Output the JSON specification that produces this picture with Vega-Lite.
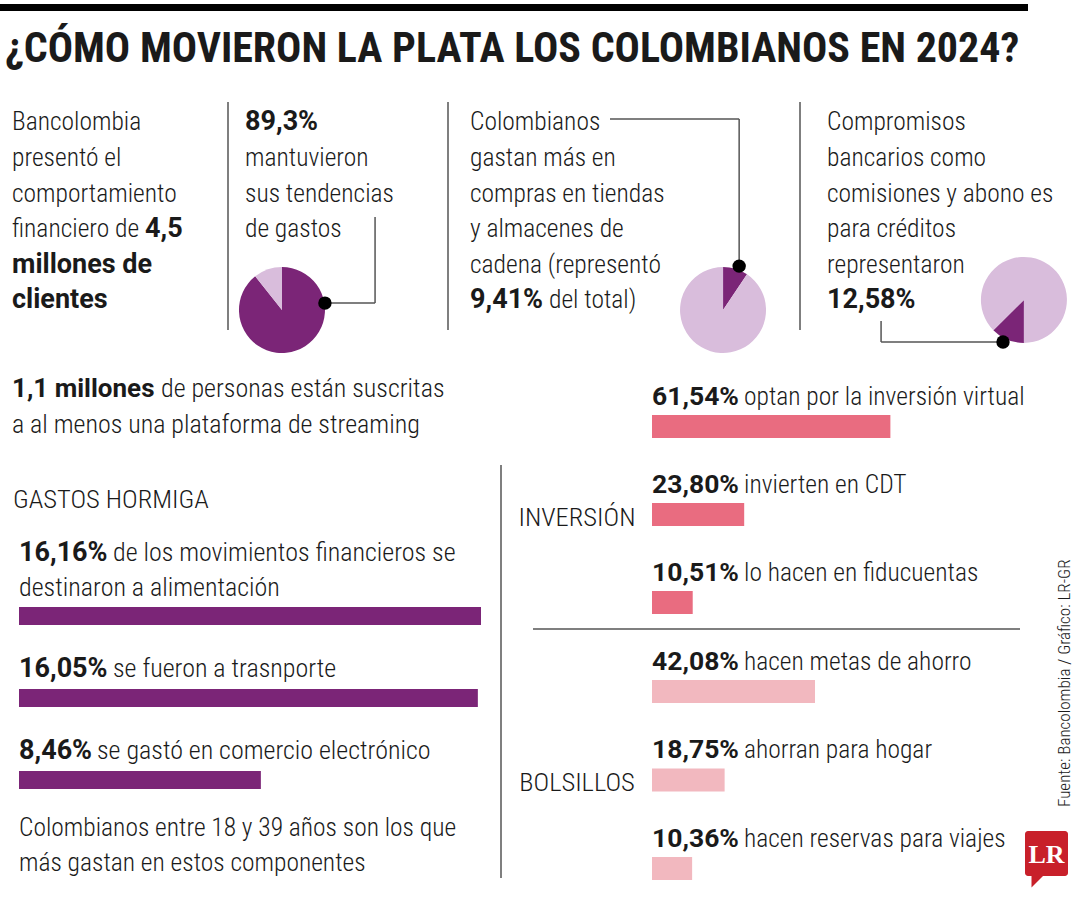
{
  "$schema": "https://vega.github.io/schema/vega-lite/v6.json",
  "background": "white",
  "padding": {"left": 0, "top": 4, "right": 0, "bottom": 0},
  "spacing": 0,
  "config": {
    "view": {"stroke": null},
    "axis": {"disable": true},
    "legend": {"disable": true},
    "concat": {"spacing": 0},
    "text": {"font": "Roboto Condensed, Liberation Sans Narrow, DejaVu Sans Condensed, sans-serif", "fontSize": 25.5, "fontWeight": 300, "color": "#1a1a1a", "align": "left", "baseline": "alphabetic"}
  },
  "vconcat": [
    {"width": 1028, "height": 7, "data": {"values": [{}]}, "mark": {"type": "rect", "color": "#000000"}, "encoding": {}},
    {"width": 1080, "height": 91,
     "data": {"values": [{"line": 1, "text": "¿CÓMO MOVIERON LA PLATA LOS COLOMBIANOS EN 2024?"}]},
     "mark": {"type": "text", "fontWeight": 700, "fontSize": 42, "dx": 5},
     "encoding": {
       "x": {"datum": 0, "type": "quantitative", "scale": {"domain": [0, 100]}},
       "y": {"field": "line", "type": "ordinal", "scale": {"type": "band", "paddingInner": 0, "paddingOuter": 0}, "bandPosition": 0.56},
       "text": {"field": "text"}}},
    {"hconcat": [
      {"width": 227, "height": 266,
       "layer": [
         {"data": {"values": [{"line": 1, "text": "Bancolombia"}, {"line": 2, "text": "presentó el"}, {"line": 3, "text": "comportamiento"}, {"line": 4, "text": "financiero de"}]},
          "mark": {"type": "text", "dx": 12},
          "encoding": {"x": {"datum": 0, "type": "quantitative", "scale": {"domain": [0, 100]}},
            "y": {"field": "line", "type": "ordinal", "scale": {"type": "band", "domain": [1, 2, 3, 4, 5, 6], "paddingInner": 0, "paddingOuter": 0.736, "align": 0}, "bandPosition": 0.8},
            "text": {"field": "text"}}},
         {"data": {"values": [{"line": 4, "text": "4,5"}]},
          "mark": {"type": "text", "dx": 145, "font": "Roboto", "fontWeight": 700, "fontSize": 27},
          "encoding": {"x": {"datum": 0, "type": "quantitative", "scale": {"domain": [0, 100]}},
            "y": {"field": "line", "type": "ordinal", "scale": {"type": "band", "domain": [1, 2, 3, 4, 5, 6], "paddingInner": 0, "paddingOuter": 0.736, "align": 0}, "bandPosition": 0.8},
            "text": {"field": "text"}}},
         {"data": {"values": [{"line": 5, "text": "millones de"}, {"line": 6, "text": "clientes"}]},
          "mark": {"type": "text", "dx": 12, "font": "Roboto", "fontWeight": 700, "fontSize": 27},
          "encoding": {"x": {"datum": 0, "type": "quantitative", "scale": {"domain": [0, 100]}},
            "y": {"field": "line", "type": "ordinal", "scale": {"type": "band", "domain": [1, 2, 3, 4, 5, 6], "paddingInner": 0, "paddingOuter": 0.736, "align": 0}, "bandPosition": 0.8},
            "text": {"field": "text"}}}
       ]},
      {"width": 2, "height": 228, "data": {"values": [{}]}, "mark": {"type": "rect", "color": "#7f7f7f"}, "encoding": {}},
      {"width": 218, "height": 266,
       "resolve": {"scale": {"y": "independent"}},
       "layer": [
         {"data": {"values": [{"line": 2, "text": "mantuvieron"}, {"line": 3, "text": "sus tendencias"}, {"line": 4, "text": "de gastos"}]},
          "mark": {"type": "text", "dx": 16},
          "encoding": {"x": {"datum": 0, "type": "quantitative", "scale": {"domain": [0, 100]}},
            "y": {"field": "line", "type": "ordinal", "scale": {"type": "band", "domain": [1, 2, 3, 4, 5, 6], "paddingInner": 0, "paddingOuter": 0.736, "align": 0}, "bandPosition": 0.8},
            "text": {"field": "text"}}},
         {"data": {"values": [{"line": 1, "text": "89,3%"}]},
          "mark": {"type": "text", "dx": 16, "font": "Roboto", "fontWeight": 700, "fontSize": 27},
          "encoding": {"x": {"datum": 0, "type": "quantitative", "scale": {"domain": [0, 100]}},
            "y": {"field": "line", "type": "ordinal", "scale": {"type": "band", "domain": [1, 2, 3, 4, 5, 6], "paddingInner": 0, "paddingOuter": 0.736, "align": 0}, "bandPosition": 0.8},
            "text": {"field": "text"}}},
         {"data": {"values": [{"share": "parte", "value": 89.3}, {"share": "resto", "value": 10.7}]},
          "mark": {"type": "arc", "radius": 43},
          "encoding": {"theta": {"field": "value", "type": "quantitative", "stack": true},
            "color": {"field": "share", "type": "nominal", "scale": {"domain": ["parte", "resto"], "range": ["#7b2577", "#d9bddc"]}, "legend": null},
            "x": {"datum": 24.3, "type": "quantitative", "scale": {"domain": [0, 100]}},
            "y": {"datum": 78.2, "type": "quantitative", "scale": {"domain": [0, 100], "reverse": true}}}},
         {"data": {"values": [{}]}, "mark": {"type": "rule", "color": "#555555", "strokeWidth": 1.5},
          "encoding": {"x": {"datum": 44, "type": "quantitative", "scale": {"domain": [0, 100]}}, "x2": {"datum": 67},
            "y": {"datum": 75.6, "type": "quantitative", "scale": {"domain": [0, 100], "reverse": true}}}},
         {"data": {"values": [{}]}, "mark": {"type": "rule", "color": "#555555", "strokeWidth": 1.5},
          "encoding": {"x": {"datum": 67, "type": "quantitative", "scale": {"domain": [0, 100]}},
            "y": {"datum": 75.6, "type": "quantitative", "scale": {"domain": [0, 100], "reverse": true}}, "y2": {"datum": 43.2}}},
         {"data": {"values": [{}]}, "mark": {"type": "point", "filled": true, "size": 180, "color": "#000000", "opacity": 1},
          "encoding": {"x": {"datum": 44, "type": "quantitative", "scale": {"domain": [0, 100]}},
            "y": {"datum": 75.6, "type": "quantitative", "scale": {"domain": [0, 100], "reverse": true}}}}
       ]},
      {"width": 2, "height": 228, "data": {"values": [{}]}, "mark": {"type": "rect", "color": "#7f7f7f"}, "encoding": {}},
      {"width": 350, "height": 266,
       "resolve": {"scale": {"y": "independent"}},
       "layer": [
         {"data": {"values": [{"line": 1, "text": "Colombianos"}, {"line": 2, "text": "gastan más en"}, {"line": 3, "text": "compras en tiendas"}, {"line": 4, "text": "y almacenes de"}, {"line": 5, "text": "cadena (representó"}]},
          "mark": {"type": "text", "dx": 21},
          "encoding": {"x": {"datum": 0, "type": "quantitative", "scale": {"domain": [0, 100]}},
            "y": {"field": "line", "type": "ordinal", "scale": {"type": "band", "domain": [1, 2, 3, 4, 5, 6], "paddingInner": 0, "paddingOuter": 0.736, "align": 0}, "bandPosition": 0.8},
            "text": {"field": "text"}}},
         {"data": {"values": [{"line": 6, "text": "9,41%"}]},
          "mark": {"type": "text", "dx": 21, "font": "Roboto", "fontWeight": 700, "fontSize": 27},
          "encoding": {"x": {"datum": 0, "type": "quantitative", "scale": {"domain": [0, 100]}},
            "y": {"field": "line", "type": "ordinal", "scale": {"type": "band", "domain": [1, 2, 3, 4, 5, 6], "paddingInner": 0, "paddingOuter": 0.736, "align": 0}, "bandPosition": 0.8},
            "text": {"field": "text"}}},
         {"data": {"values": [{"line": 6, "text": "del total)"}]},
          "mark": {"type": "text", "dx": 100},
          "encoding": {"x": {"datum": 0, "type": "quantitative", "scale": {"domain": [0, 100]}},
            "y": {"field": "line", "type": "ordinal", "scale": {"type": "band", "domain": [1, 2, 3, 4, 5, 6], "paddingInner": 0, "paddingOuter": 0.736, "align": 0}, "bandPosition": 0.8},
            "text": {"field": "text"}}},
         {"data": {"values": [{"share": "parte", "value": 9.41}, {"share": "resto", "value": 90.59}]},
          "mark": {"type": "arc", "radius": 43},
          "encoding": {"theta": {"field": "value", "type": "quantitative", "stack": true},
            "color": {"field": "share", "type": "nominal", "scale": {"domain": ["parte", "resto"], "range": ["#7b2577", "#d9bddc"]}, "legend": null},
            "x": {"datum": 78.3, "type": "quantitative", "scale": {"domain": [0, 100]}},
            "y": {"datum": 78.2, "type": "quantitative", "scale": {"domain": [0, 100], "reverse": true}}}},
         {"data": {"values": [{}]}, "mark": {"type": "rule", "color": "#555555", "strokeWidth": 1.5},
          "encoding": {"x": {"datum": 82.9, "type": "quantitative", "scale": {"domain": [0, 100]}},
            "y": {"datum": 61.7, "type": "quantitative", "scale": {"domain": [0, 100], "reverse": true}}, "y2": {"datum": 6.4}}},
         {"data": {"values": [{}]}, "mark": {"type": "rule", "color": "#555555", "strokeWidth": 1.5},
          "encoding": {"x": {"datum": 46, "type": "quantitative", "scale": {"domain": [0, 100]}}, "x2": {"datum": 82.9},
            "y": {"datum": 6.4, "type": "quantitative", "scale": {"domain": [0, 100], "reverse": true}}}},
         {"data": {"values": [{}]}, "mark": {"type": "point", "filled": true, "size": 180, "color": "#000000", "opacity": 1},
          "encoding": {"x": {"datum": 82.9, "type": "quantitative", "scale": {"domain": [0, 100]}},
            "y": {"datum": 61.7, "type": "quantitative", "scale": {"domain": [0, 100], "reverse": true}}}}
       ]},
      {"width": 2, "height": 228, "data": {"values": [{}]}, "mark": {"type": "rect", "color": "#7f7f7f"}, "encoding": {}},
      {"width": 279, "height": 266,
       "resolve": {"scale": {"y": "independent"}},
       "layer": [
         {"data": {"values": [{"line": 1, "text": "Compromisos"}, {"line": 2, "text": "bancarios como"}, {"line": 3, "text": "comisiones y abono es"}, {"line": 4, "text": "para créditos"}, {"line": 5, "text": "representaron"}]},
          "mark": {"type": "text", "dx": 26},
          "encoding": {"x": {"datum": 0, "type": "quantitative", "scale": {"domain": [0, 100]}},
            "y": {"field": "line", "type": "ordinal", "scale": {"type": "band", "domain": [1, 2, 3, 4, 5, 6], "paddingInner": 0, "paddingOuter": 0.736, "align": 0}, "bandPosition": 0.8},
            "text": {"field": "text"}}},
         {"data": {"values": [{"line": 6, "text": "12,58%"}]},
          "mark": {"type": "text", "dx": 26, "font": "Roboto", "fontWeight": 700, "fontSize": 27},
          "encoding": {"x": {"datum": 0, "type": "quantitative", "scale": {"domain": [0, 100]}},
            "y": {"field": "line", "type": "ordinal", "scale": {"type": "band", "domain": [1, 2, 3, 4, 5, 6], "paddingInner": 0, "paddingOuter": 0.736, "align": 0}, "bandPosition": 0.8},
            "text": {"field": "text"}}},
         {"data": {"values": [{"share": "parte", "value": 12.58}, {"share": "resto", "value": 87.42}]},
          "mark": {"type": "arc", "radius": 43},
          "encoding": {"theta": {"field": "value", "type": "quantitative", "stack": true, "scale": {"range": [3.14159, 9.42478]}},
            "color": {"field": "share", "type": "nominal", "scale": {"domain": ["parte", "resto"], "range": ["#7b2577", "#d9bddc"]}, "legend": null},
            "x": {"datum": 79.9, "type": "quantitative", "scale": {"domain": [0, 100]}},
            "y": {"datum": 74.4, "type": "quantitative", "scale": {"domain": [0, 100], "reverse": true}}}},
         {"data": {"values": [{}]}, "mark": {"type": "rule", "color": "#555555", "strokeWidth": 1.5},
          "encoding": {"x": {"datum": 28.7, "type": "quantitative", "scale": {"domain": [0, 100]}}, "x2": {"datum": 72.4},
            "y": {"datum": 90.2, "type": "quantitative", "scale": {"domain": [0, 100], "reverse": true}}}},
         {"data": {"values": [{}]}, "mark": {"type": "rule", "color": "#555555", "strokeWidth": 1.5},
          "encoding": {"x": {"datum": 28.7, "type": "quantitative", "scale": {"domain": [0, 100]}},
            "y": {"datum": 90.2, "type": "quantitative", "scale": {"domain": [0, 100], "reverse": true}}, "y2": {"datum": 82.3}}},
         {"data": {"values": [{}]}, "mark": {"type": "point", "filled": true, "size": 180, "color": "#000000", "opacity": 1},
          "encoding": {"x": {"datum": 72.4, "type": "quantitative", "scale": {"domain": [0, 100]}},
            "y": {"datum": 90.2, "type": "quantitative", "scale": {"domain": [0, 100], "reverse": true}}}}
       ]}
    ]},
    {"hconcat": [
      {"vconcat": [
        {"width": 500, "height": 72,
         "layer": [
           {"data": {"values": [{"line": 1, "text": "1,1 millones"}]},
            "mark": {"type": "text", "dx": 12, "font": "Roboto", "fontWeight": 700, "fontSize": 26},
            "encoding": {"x": {"datum": 0, "type": "quantitative", "scale": {"domain": [0, 100]}},
              "y": {"field": "line", "type": "ordinal", "scale": {"type": "band", "domain": [1, 2], "paddingInner": 0, "paddingOuter": 0}, "bandPosition": 0.8},
              "text": {"field": "text"}}},
           {"data": {"values": [{"line": 1, "text": "de personas están suscritas"}]},
            "mark": {"type": "text", "dx": 161, "fontSize": 26},
            "encoding": {"x": {"datum": 0, "type": "quantitative", "scale": {"domain": [0, 100]}},
              "y": {"field": "line", "type": "ordinal", "scale": {"type": "band", "domain": [1, 2], "paddingInner": 0, "paddingOuter": 0}, "bandPosition": 0.8},
              "text": {"field": "text"}}},
           {"data": {"values": [{"line": 2, "text": "a al menos una plataforma de streaming"}]},
            "mark": {"type": "text", "dx": 12, "fontSize": 26},
            "encoding": {"x": {"datum": 0, "type": "quantitative", "scale": {"domain": [0, 100]}},
              "y": {"field": "line", "type": "ordinal", "scale": {"type": "band", "domain": [1, 2], "paddingInner": 0, "paddingOuter": 0}, "bandPosition": 0.8},
              "text": {"field": "text"}}}
         ]},
        {"width": 500, "height": 80,
         "data": {"values": [{"line": 1, "text": "GASTOS HORMIGA"}]},
         "mark": {"type": "text", "dx": 13, "fontSize": 26.5},
         "encoding": {"x": {"datum": 0, "type": "quantitative", "scale": {"domain": [0, 100]}},
           "y": {"field": "line", "type": "ordinal", "scale": {"type": "band", "paddingInner": 0, "paddingOuter": 0}, "bandPosition": 0.85},
           "text": {"field": "text"}}},
        {"hconcat": [
          {"width": 19, "height": 1, "data": {"values": [{}]}, "mark": {"type": "rect", "opacity": 0}, "encoding": {}},
          {"width": 462, "height": 269,
           "data": {"values": [
             {"item": 1, "value": 16.16, "pct": "16,16%", "rest": "de los movimientos financieros se", "cont": "destinaron a alimentación"},
             {"item": 2, "value": 16.05, "pct": "16,05%", "rest": "se fueron a trasnporte"},
             {"item": 3, "value": 8.46, "pct": "8,46%", "rest": "se gastó en comercio electrónico"}
           ]},
           "layer": [
             {"mark": {"type": "bar", "color": "#7b2577"},
              "encoding": {"x": {"field": "value", "type": "quantitative", "scale": {"nice": false, "zero": true}},
                "y": {"field": "item", "type": "ordinal", "scale": {"type": "band", "paddingInner": 0.7805, "paddingOuter": 0.5305, "align": 1}}}},
             {"transform": [{"filter": "!datum.cont"}],
              "mark": {"type": "text", "font": "Roboto", "fontWeight": 700, "fontSize": 27, "dy": -12},
              "encoding": {"x": {"datum": 0, "type": "quantitative"},
                "y": {"field": "item", "type": "ordinal", "bandPosition": 0},
                "text": {"field": "pct"}}},
             {"transform": [{"filter": "datum.cont"}],
              "mark": {"type": "text", "font": "Roboto", "fontWeight": 700, "fontSize": 27, "dy": -46},
              "encoding": {"x": {"datum": 0, "type": "quantitative"},
                "y": {"field": "item", "type": "ordinal", "bandPosition": 0},
                "text": {"field": "pct"}}},
             {"transform": [{"filter": "!datum.cont && length(datum.pct) == 6"}],
              "mark": {"type": "text", "dx": 94, "dy": -12, "fontSize": 26},
              "encoding": {"x": {"datum": 0, "type": "quantitative"},
                "y": {"field": "item", "type": "ordinal", "bandPosition": 0},
                "text": {"field": "rest"}}},
             {"transform": [{"filter": "!datum.cont && length(datum.pct) == 5"}],
              "mark": {"type": "text", "dx": 78, "dy": -12, "fontSize": 26},
              "encoding": {"x": {"datum": 0, "type": "quantitative"},
                "y": {"field": "item", "type": "ordinal", "bandPosition": 0},
                "text": {"field": "rest"}}},
             {"transform": [{"filter": "datum.cont"}],
              "mark": {"type": "text", "dx": 94, "dy": -46, "fontSize": 26},
              "encoding": {"x": {"datum": 0, "type": "quantitative"},
                "y": {"field": "item", "type": "ordinal", "bandPosition": 0},
                "text": {"field": "rest"}}},
             {"transform": [{"filter": "datum.cont"}],
              "mark": {"type": "text", "dy": -11, "fontSize": 26},
              "encoding": {"x": {"datum": 0, "type": "quantitative"},
                "y": {"field": "item", "type": "ordinal", "bandPosition": 0},
                "text": {"field": "cont"}}}
           ]}
        ]},
        {"width": 500, "height": 111,
         "data": {"values": [{"line": 1, "text": "Colombianos entre 18 y 39 años son los que"}, {"line": 2, "text": "más gastan en estos componentes"}]},
         "mark": {"type": "text", "dx": 19},
         "encoding": {"x": {"datum": 0, "type": "quantitative", "scale": {"domain": [0, 100]}},
           "y": {"field": "line", "type": "ordinal", "scale": {"type": "band", "paddingInner": 0, "paddingOuter": 0.586}, "bandPosition": 0.757},
           "text": {"field": "text"}}}
      ]},
      {"vconcat": [
        {"width": 2, "height": 97, "data": {"values": [{}]}, "mark": {"type": "rect", "opacity": 0}, "encoding": {}},
        {"width": 2, "height": 413, "data": {"values": [{}]}, "mark": {"type": "rect", "color": "#7f7f7f"}, "encoding": {}}
      ]},
      {"vconcat": [
        {"hconcat": [
          {"width": 150, "height": 260,
           "data": {"values": [{"item": 2, "text": "INVERSIÓN"}]},
           "mark": {"type": "text", "align": "center", "fontSize": 26.5},
           "encoding": {
             "y": {"field": "item", "type": "ordinal", "scale": {"type": "band", "domain": [1, 2, 3], "paddingInner": 0.7386, "paddingOuter": 0.3466, "align": 0.77}, "bandPosition": 1},
             "text": {"field": "text"}}},
          {"width": 368, "height": 260,
           "data": {"values": [
             {"item": 1, "value": 61.54, "pct": "61,54%", "rest": "optan por la inversión virtual"},
             {"item": 2, "value": 23.80, "pct": "23,80%", "rest": "invierten en CDT"},
             {"item": 3, "value": 10.51, "pct": "10,51%", "rest": "lo hacen en fiducuentas"}
           ]},
           "layer": [
             {"mark": {"type": "bar", "color": "#e96c80"},
              "encoding": {"x": {"field": "value", "type": "quantitative", "scale": {"domain": [0, 95], "nice": false}},
                "y": {"field": "item", "type": "ordinal", "scale": {"type": "band", "domain": [1, 2, 3], "paddingInner": 0.7386, "paddingOuter": 0.3466, "align": 0.77}}}},
             {"mark": {"type": "text", "font": "Roboto", "fontWeight": 700, "fontSize": 26.5, "dy": -10},
              "encoding": {"x": {"datum": 0, "type": "quantitative"},
                "y": {"field": "item", "type": "ordinal", "bandPosition": 0},
                "text": {"field": "pct"}}},
             {"mark": {"type": "text", "dx": 92, "dy": -10},
              "encoding": {"x": {"datum": 0, "type": "quantitative"},
                "y": {"field": "item", "type": "ordinal", "bandPosition": 0},
                "text": {"field": "rest"}}}
           ]}
        ]},
        {"hconcat": [
          {"width": 31, "height": 1, "data": {"values": [{}]}, "mark": {"type": "rect", "opacity": 0}, "encoding": {}},
          {"width": 487, "height": 2, "data": {"values": [{}]}, "mark": {"type": "rect", "color": "#7f7f7f"}, "encoding": {}}
        ]},
        {"hconcat": [
          {"width": 150, "height": 270,
           "data": {"values": [{"item": 5, "text": "BOLSILLOS"}]},
           "mark": {"type": "text", "align": "center", "fontSize": 26.5},
           "encoding": {
             "y": {"field": "item", "type": "ordinal", "scale": {"type": "band", "domain": [4, 5, 6], "paddingInner": 0.74, "paddingOuter": 0.3954, "align": 0.714}, "bandPosition": 1},
             "text": {"field": "text"}}},
          {"width": 368, "height": 270,
           "data": {"values": [
             {"item": 4, "value": 42.08, "pct": "42,08%", "rest": "hacen metas de ahorro"},
             {"item": 5, "value": 18.75, "pct": "18,75%", "rest": "ahorran para hogar"},
             {"item": 6, "value": 10.36, "pct": "10,36%", "rest": "hacen reservas para viajes"}
           ]},
           "layer": [
             {"mark": {"type": "bar", "color": "#f2b8bf"},
              "encoding": {"x": {"field": "value", "type": "quantitative", "scale": {"domain": [0, 95], "nice": false}},
                "y": {"field": "item", "type": "ordinal", "scale": {"type": "band", "domain": [4, 5, 6], "paddingInner": 0.74, "paddingOuter": 0.3954, "align": 0.714}}}},
             {"mark": {"type": "text", "font": "Roboto", "fontWeight": 700, "fontSize": 26.5, "dy": -10},
              "encoding": {"x": {"datum": 0, "type": "quantitative"},
                "y": {"field": "item", "type": "ordinal", "bandPosition": 0},
                "text": {"field": "pct"}}},
             {"mark": {"type": "text", "dx": 92, "dy": -10},
              "encoding": {"x": {"datum": 0, "type": "quantitative"},
                "y": {"field": "item", "type": "ordinal", "bandPosition": 0},
                "text": {"field": "rest"}}}
           ]}
        ]}
      ]},
      {"vconcat": [
        {"width": 52, "height": 439,
         "data": {"values": [{"text": "Fuente: Bancolombia / Gráfico: LR-GR"}]},
         "mark": {"type": "text", "angle": 270, "fontSize": 17, "align": "left", "baseline": "middle", "dy": 14},
         "encoding": {"y": {"datum": 0, "type": "quantitative", "scale": {"domain": [0, 100]}}, "text": {"field": "text"}}},
        {"width": 43, "height": 45,
         "layer": [
           {"data": {"values": [{}]}, "mark": {"type": "rect", "color": "#c8202a", "cornerRadius": 3}, "encoding": {}},
           {"data": {"values": [{}]}, "mark": {"type": "point", "shape": "M-1,-1L1,-1L-1,1Z", "filled": true, "color": "#c8202a", "opacity": 1, "size": 144, "xOffset": -9, "yOffset": 28}, "encoding": {}},
           {"data": {"values": [{"text": "LR"}]}, "mark": {"type": "text", "font": "Liberation Serif, DejaVu Serif, serif", "fontWeight": 700, "fontSize": 26, "color": "#ffffff", "align": "center", "baseline": "middle", "dy": 1}, "encoding": {"text": {"field": "text"}}}
         ]}
      ], "spacing": 24}
    ]}
  ]
}
